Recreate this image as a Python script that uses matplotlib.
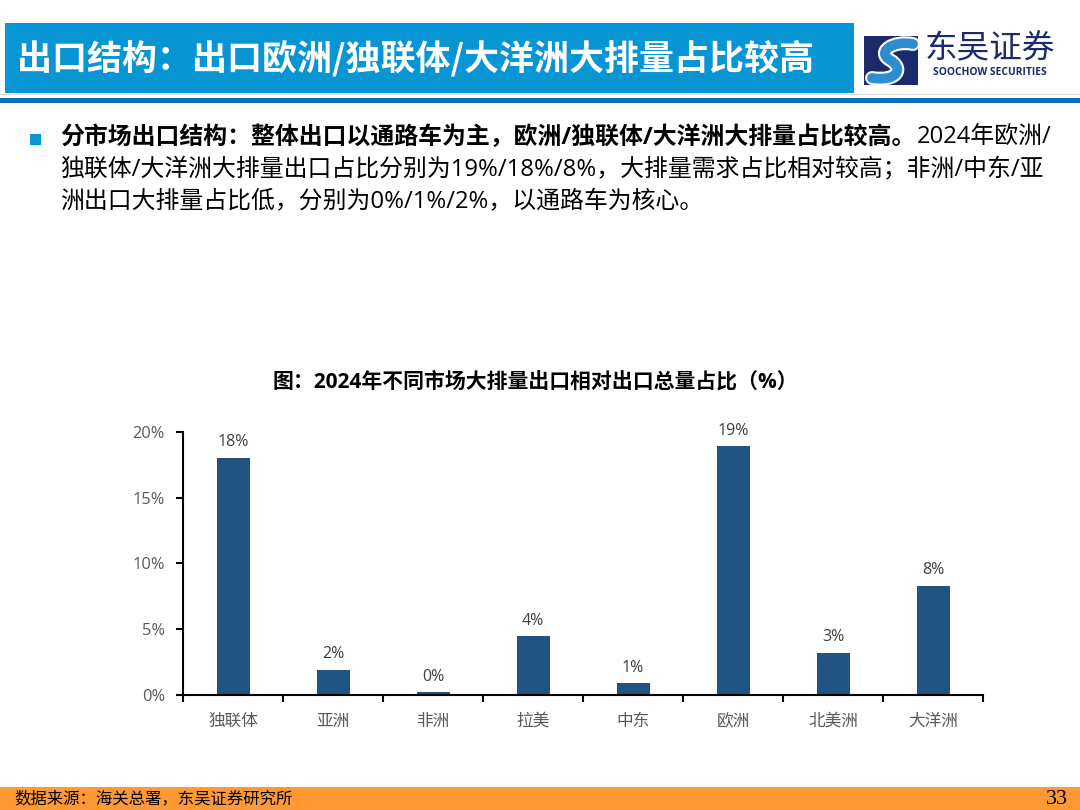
import matplotlib
matplotlib.use("Agg")
import matplotlib.pyplot as plt
from matplotlib.patches import Rectangle
from matplotlib.path import Path
from matplotlib.patches import PathPatch
import matplotlib.patheffects as pe

plt.rcParams['font.family'] = ['Open Sans', 'Noto Sans CJK SC', 'DejaVu Sans']

# ---------------- data ----------------
categories = ["独联体", "亚洲", "非洲", "拉美", "中东", "欧洲", "北美洲", "大洋洲"]
share_pct = [18.0, 1.9, 0.2, 4.45, 0.9, 18.9, 3.2, 8.3]
ytick_values = [0, 5, 10, 15, 20]
ytick_labels = ["0%", "5%", "10%", "15%", "20%"]

header_title = "出口结构：出口欧洲/独联体/大洋洲大排量占比较高"
chart_title = "图：2024年不同市场大排量出口相对出口总量占比（%）"
body_bold = "分市场出口结构：整体出口以通路车为主，欧洲/独联体/大洋洲大排量占比较高。"
body_line1_rest = "2024年欧洲/"
body_line2 = "独联体/大洋洲大排量出口占比分别为19%/18%/8%，大排量需求占比相对较高；非洲/中东/亚"
body_line3 = "洲出口大排量占比低，分别为0%/1%/2%，以通路车为核心。"
source_text = "数据来源：海关总署，东吴证券研究所"
page_no = "33"
logo_cn = "东吴证券"
logo_en = "SOOCHOW SECURITIES"

W, H = 1080, 810
fig = plt.figure(figsize=(W / 100, H / 100), dpi=100)
fig.patch.set_facecolor("white")

# overlay axes in pixel coordinates (y downward)
ov = fig.add_axes([0, 0, 1, 1], zorder=0)
ov.set_xlim(0, W)
ov.set_ylim(H, 0)
ov.axis("off")

BLUE = "#0795D3"
NAVY = "#1B2A6B"

# header bar
ov.add_patch(Rectangle((5, 22.5), 849, 70, facecolor=BLUE, edgecolor="none"))
ov.add_patch(Rectangle((0, 94), W, 1.2, facecolor="#D9D9D9", edgecolor="none"))
ov.add_patch(Rectangle((0, 98), W, 5, facecolor="#0A6EBD", edgecolor="none"))
ov.text(17, 58, header_title, color="white", fontsize=25.2, fontweight="bold",
        va="center", ha="left", family=['Noto Sans CJK SC', 'DejaVu Sans'])

# logo
ov.add_patch(Rectangle((864, 36), 54, 49, facecolor=NAVY, edgecolor="none"))
verts = [(913, 44), (893, 40), (876, 52), (890, 60), (904, 68), (898, 82), (872, 78)]
codes = [Path.MOVETO, Path.CURVE4, Path.CURVE4, Path.CURVE4, Path.CURVE4, Path.CURVE4, Path.CURVE4]
sp = PathPatch(Path(verts, codes), facecolor="none", edgecolor="#2C8ED0", linewidth=7,
               capstyle="round")
sp.set_path_effects([pe.Stroke(linewidth=10, foreground="white"), pe.Normal()])
ov.add_patch(sp)
ov.text(990, 49, logo_cn, color=NAVY, fontsize=23.5, ha="center", va="center",
        family=['Noto Sans CJK SC', 'DejaVu Sans'])
ov.text(990, 72.5, logo_en, color=NAVY, fontsize=7.4, fontweight="bold",
        ha="center", va="center", family=['Open Sans', 'DejaVu Sans'])

# bullet & body text
ov.add_patch(Rectangle((30, 134), 11, 11, facecolor=BLUE, edgecolor="none"))
body_fs = 17.2
t_bold = ov.text(60, 138, body_bold, fontsize=body_fs, fontweight="bold", color="black",
                 va="center", ha="left")
fig.canvas.draw()
bb = t_bold.get_window_extent(renderer=fig.canvas.get_renderer())
ov.text(bb.x1 + 1, 138, body_line1_rest, fontsize=body_fs, color="black",
        va="center", ha="left")
ov.text(60, 170, body_line2, fontsize=body_fs, color="black", va="center", ha="left")
ov.text(60, 202, body_line3, fontsize=body_fs, color="black", va="center", ha="left")

# chart title
ov.text(535, 382, chart_title, fontsize=15, fontweight="bold", color="black",
        ha="center", va="center")

# footer
ov.add_patch(Rectangle((0, 787), W, 23, facecolor="#FF9933", edgecolor="none"))
ov.text(14, 799, source_text, fontsize=11.8, color="black", ha="left", va="center",
        family=['Noto Sans CJK SC', 'DejaVu Sans'])
ov.text(1068, 799, page_no, fontsize=16, color="black", ha="right", va="center",
        family=['Liberation Serif', 'DejaVu Serif'])

# ---------------- chart ----------------
ax = fig.add_axes([183 / W, 1 - 695 / H, 800 / W, 263.3 / H], zorder=2)
ax.patch.set_alpha(0)
x = list(range(len(categories)))
bars = ax.bar(x, share_pct, width=0.33, color="#215483", edgecolor="none")
for xi, v in zip(x, share_pct):
    ax.annotate(f"{round(v)}%", (xi, v), xytext=(0, 5.5), textcoords="offset points",
                ha="center", va="bottom", fontsize=11.5, color="#404040",
                annotation_clip=False)

ax.set_xlim(-0.5, len(categories) - 0.5)
ax.set_ylim(0, 20)
ax.set_yticks(ytick_values)
ax.set_yticklabels(ytick_labels)
ax.set_xticks(x)
ax.set_xticklabels(categories)
ax.set_xticks([i - 0.5 for i in range(len(categories) + 1)], minor=True)

for s in ["top", "right"]:
    ax.spines[s].set_visible(False)
for s in ["left", "bottom"]:
    ax.spines[s].set_color("black")
    ax.spines[s].set_linewidth(1.5)

ax.tick_params(axis="y", length=5, width=1.5, color="black", pad=8,
               labelsize=11.8, labelcolor="#595959")
ax.tick_params(axis="x", which="major", length=0, pad=13, labelsize=12,
               labelcolor="#595959")
ax.tick_params(axis="x", which="minor", length=5, width=1.5, color="black")
for lab in ax.get_xticklabels():
    lab.set_family(['Noto Sans CJK SC', 'DejaVu Sans'])

fig.savefig("out.png", dpi=100, facecolor="white")
